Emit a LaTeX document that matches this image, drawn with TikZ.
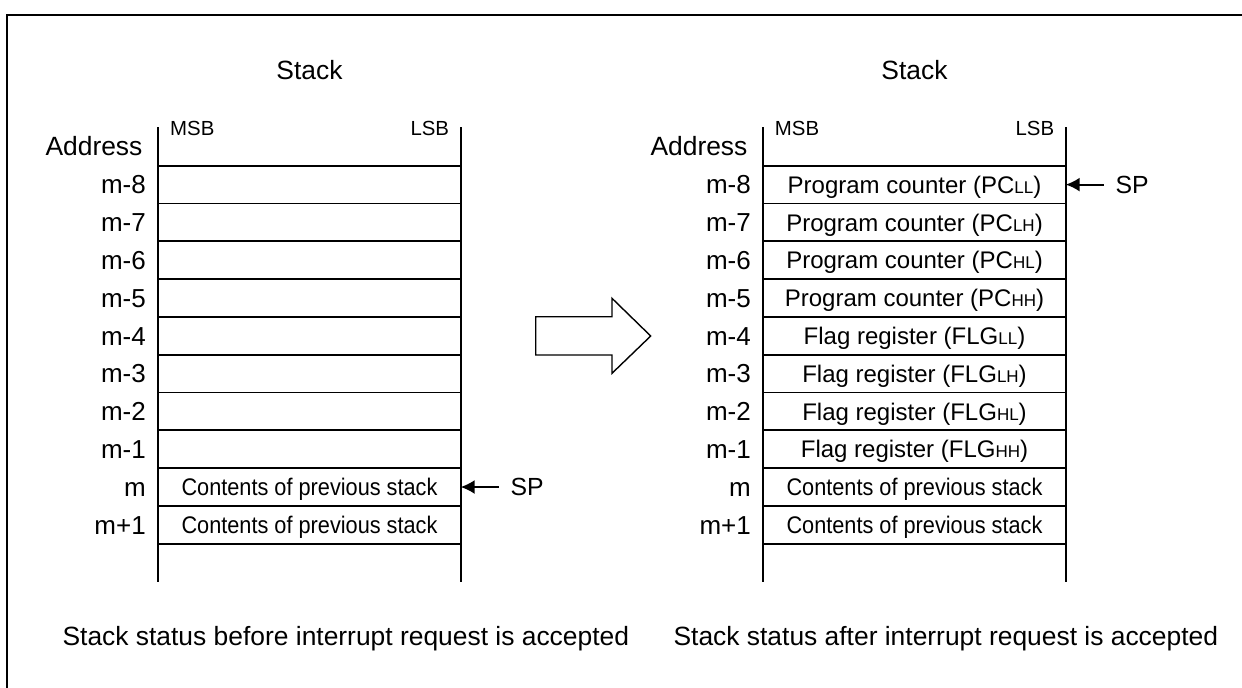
\documentclass[tikz,border=0pt]{standalone}
\usepackage{fontspec}
\usepackage{graphicx}
\setmainfont{Liberation Sans}
\usetikzlibrary{arrows.meta,calc}
\newcommand{\sbx}[1]{{\fontsize{8.5}{9}\selectfont #1}}
\newcommand{\cnd}[1]{\scalebox{0.905}[1]{#1}}
\begin{document}
\begin{tikzpicture}[x=0.5pt,y=-0.5pt,
  line width=0.9pt,
  big/.style={font=\fontsize{13.2}{15}\selectfont, inner sep=0pt},
  small/.style={font=\fontsize{10.2}{12}\selectfont, inner sep=0pt},
  cell/.style={draw, line width=0.9pt, minimum width=151.2pt, minimum height=18.9pt,
    inner sep=0pt, outer sep=0pt, font=\fontsize{12}{14}\selectfont,
    text height=8.6pt, text depth=0pt},
  addr/.style={anchor=east, inner sep=0pt, font=\fontsize{13}{15}\selectfont,
    text height=9.3pt, text depth=0pt},
  sptext/.style={anchor=west, inner sep=0pt, font=\fontsize{12.4}{14}\selectfont,
    text height=8.9pt, text depth=0pt},
  ptr/.style={-{Latex[length=7pt,width=7pt]}, line width=0.9pt}]
\useasboundingbox (0,0) rectangle (1242,687);
% frame (only top and left edges visible)
\coordinate (fTR) at (1243,14.8);
\coordinate (fTL) at (7,14.8);
\coordinate (fBL) at (7,688);
\draw[line width=1pt] (fTR) -- (fTL) -- (fBL);

% titles
\node[big, anchor=base] (tL) at (309.5,79.3) {Stack};
\node[big, anchor=base] (tR) at (914.5,79.3) {Stack};
\node[small, anchor=base west] (msbL) at (169.3,135) {MSB};
\node[small, anchor=base east] (lsbL) at (450,135) {LSB};
\node[small, anchor=base west] (msbR) at (774,135) {MSB};
\node[small, anchor=base east] (lsbR) at (1055,135) {LSB};
\node[big, anchor=base east] (adL) at (143.3,155) {Address};
\node[big, anchor=base east] (adR) at (748.3,155) {Address};

% stack rows
\foreach \k/\lab in {0/m-8,1/m-7,2/m-6,3/m-5,4/m-4,5/m-3,6/m-2,7/m-1,8/m,9/m+1}{
  \node[cell] (L\k) at (309.5,{184.6+37.8*\k}) {};
  \node[addr] (aL\k) at ([xshift=-5.8pt]L\k.west) {\lab};
  \node[cell] (R\k) at (914.5,{184.6+37.8*\k}) {};
  \node[addr] (aR\k) at ([xshift=-5.8pt]R\k.west) {\lab};
}
\node[cell, draw=none] (cL8) at (L8) {\cnd{Contents of previous stack}};
\node[cell, draw=none] (cL9) at (L9) {\cnd{Contents of previous stack}};

\node[cell, draw=none] (cR0) at (R0) {Program counter (PC\sbx{LL})};
\node[cell, draw=none] (cR1) at (R1) {Program counter (PC\sbx{LH})};
\node[cell, draw=none] (cR2) at (R2) {Program counter (PC\sbx{HL})};
\node[cell, draw=none] (cR3) at (R3) {Program counter (PC\sbx{HH})};
\node[cell, draw=none] (cR4) at (R4) {Flag register (FLG\sbx{LL})};
\node[cell, draw=none] (cR5) at (R5) {Flag register (FLG\sbx{LH})};
\node[cell, draw=none] (cR6) at (R6) {Flag register (FLG\sbx{HL})};
\node[cell, draw=none] (cR7) at (R7) {Flag register (FLG\sbx{HH})};
\node[cell, draw=none] (cR8) at (R8) {\cnd{Contents of previous stack}};
\node[cell, draw=none] (cR9) at (R9) {\cnd{Contents of previous stack}};

% vertical side lines
\draw (L0.north west) -- ++(0,-39);
\draw (L0.north east) -- ++(0,-39);
\draw (L9.south west) -- ++(0,38);
\draw (L9.south east) -- ++(0,38);
\draw (R0.north west) -- ++(0,-39);
\draw (R0.north east) -- ++(0,-39);
\draw (R9.south west) -- ++(0,38);
\draw (R9.south east) -- ++(0,38);

% SP pointers
\node[sptext] (spL) at ([xshift=24.5pt]L8.east) {SP};
\draw[ptr] ([xshift=-5.5pt]spL.west) -- (L8.east);
\node[sptext] (spR) at ([xshift=24.5pt]R0.east) {SP};
\draw[ptr] ([xshift=-5.5pt]spR.west) -- (R0.east);

% big hollow arrow
\draw[line width=0.7pt, line join=miter] (535.7,316.7) -- (612,316.7) -- (612,298.3) -- (650.7,336)
  -- (612,373.3) -- (612,355) -- (535.7,355) -- cycle;

% captions
\node[big, anchor=base west] (capL) at (61.7,645) {Stack status before interrupt request is accepted};
\node[big, anchor=base west] (capR) at (672.7,645) {Stack status after interrupt request is accepted};
\end{tikzpicture}
\end{document}
